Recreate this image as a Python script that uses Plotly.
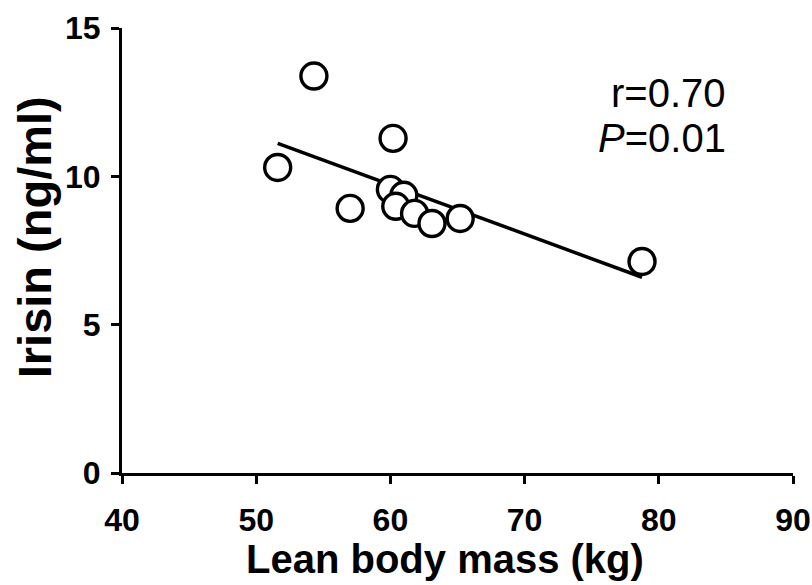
import numpy as np
import plotly.graph_objects as go

# Data
lean_mass = [54.3, 51.6, 60.2, 57.0, 60.0, 61.0, 60.4, 61.8, 63.1, 65.2, 78.75]
irisin = [13.38, 10.3, 11.28, 8.92, 9.56, 9.36, 8.99, 8.75, 8.41, 8.58, 7.13]
x_ticks = [40, 50, 60, 70, 80, 90]
y_ticks = [0, 5, 10, 15]
x_title = "Lean body mass (kg)"
y_title = "Irisin (ng/ml)"
r_text = "r=0.70"
p_text = "<i>P</i>=0.01"

# Linear regression line over the data range
slope, intercept = np.polyfit(lean_mass, irisin, 1)
fit_x = [min(lean_mass), max(lean_mass)]
fit_y = [slope * v + intercept for v in fit_x]

FONT = "Liberation Sans, Arial, Helvetica, sans-serif"

fig = go.Figure()
fig.add_trace(go.Scatter(
    x=fit_x, y=fit_y, mode="lines",
    line=dict(color="black", width=3.5),
    showlegend=False, hoverinfo="skip",
))
fig.add_trace(go.Scatter(
    x=lean_mass, y=irisin, mode="markers",
    marker=dict(size=26, color="white", line=dict(color="black", width=3.4)),
    showlegend=False, cliponaxis=False,
))

for txt, yy in [(r_text, 0.853), (p_text, 0.752)]:
    fig.add_annotation(
        x=0.903, y=yy, xref="paper", yref="paper",
        text=txt, showarrow=False,
        xanchor="right", yanchor="middle", align="right",
        font=dict(family=FONT, size=40, color="black"),
    )

fig.add_annotation(
    x=0.481, y=-0.193, xref="paper", yref="paper",
    text=x_title, showarrow=False, xanchor="center", yanchor="middle",
    font=dict(family=FONT, size=40, weight="bold", color="black"),
)
fig.add_annotation(
    x=-0.131, y=0.530, xref="paper", yref="paper",
    text=y_title, showarrow=False, xanchor="center", yanchor="middle",
    textangle=-90,
    font=dict(family=FONT, size=47, weight="bold", color="black"),
)

fig.update_layout(
    width=812, height=585,
    margin=dict(l=122, r=19, t=28, b=112),
    paper_bgcolor="white", plot_bgcolor="white",
    font=dict(family=FONT, color="black"),
)
fig.update_xaxes(
    range=[40, 90], tickvals=x_ticks, ticktext=[str(v) for v in x_ticks],
    showgrid=False, zeroline=False, automargin=False,
    showline=True, linecolor="black", linewidth=3,
    ticks="outside", ticklen=8, tickwidth=3, tickcolor="black",
    ticklabelstandoff=9,
    tickfont=dict(family=FONT, size=32, weight="bold"),
)
fig.update_yaxes(
    range=[0, 15], tickvals=y_ticks, ticktext=[str(v) for v in y_ticks],
    showgrid=False, zeroline=False, automargin=False,
    showline=True, linecolor="black", linewidth=3,
    ticks="outside", ticklen=8, tickwidth=3, tickcolor="black",
    ticklabelstandoff=4,
    tickfont=dict(family=FONT, size=32, weight="bold"),
)

fig.write_html(
    "out.html",
    config={"displayModeBar": False},
    post_script="document.body.style.margin='0';document.body.style.overflow='hidden';",
)
